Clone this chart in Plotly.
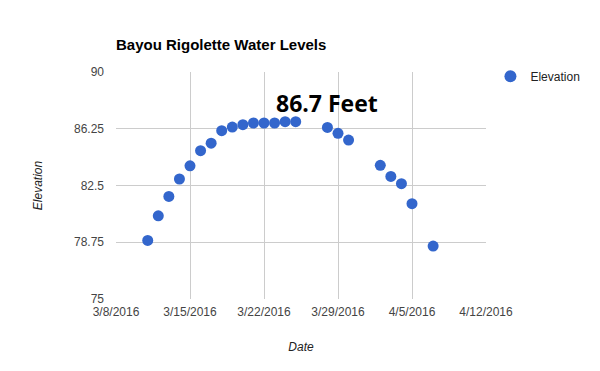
import plotly.graph_objects as go

dates = ["2016-03-11", "2016-03-12", "2016-03-13", "2016-03-14", "2016-03-15",
         "2016-03-16", "2016-03-17", "2016-03-18", "2016-03-19", "2016-03-20",
         "2016-03-21", "2016-03-22", "2016-03-23", "2016-03-24", "2016-03-25",
         "2016-03-28", "2016-03-29", "2016-03-30", "2016-04-02", "2016-04-03",
         "2016-04-04", "2016-04-05", "2016-04-07"]
elevation = [78.87, 80.5, 81.78, 82.93, 83.8,
             84.8, 85.3, 86.12, 86.36, 86.52,
             86.63, 86.63, 86.63, 86.72, 86.72,
             86.34, 85.95, 85.5, 83.83, 83.1,
             82.62, 81.3, 78.5]
x_ticks = ["2016-03-08", "2016-03-15", "2016-03-22", "2016-03-29", "2016-04-05", "2016-04-12"]
x_tick_labels = ["3/8/2016", "3/15/2016", "3/22/2016", "3/29/2016", "4/5/2016", "4/12/2016"]
y_ticks = [75, 78.75, 82.5, 86.25, 90]
y_tick_labels = ["75", "78.75", "82.5", "86.25", "90"]

fig = go.Figure()
fig.add_trace(go.Scatter(
    x=dates, y=elevation, mode="markers", name="Elevation",
    marker=dict(color="#3366cc", size=11, line=dict(width=0)),
    showlegend=True,
))

fig.add_annotation(
    x="2016-03-23", y=86.72, xref="x", yref="y",
    text="<b>86.7 Feet</b>", showarrow=False,
    xanchor="left", yanchor="bottom", xshift=-1, yshift=1,
    font=dict(family="Open Sans, Arial", size=23, color="#000000"),
)

fig.update_layout(
    width=600, height=371,
    margin=dict(l=116, r=114, t=72, b=72),
    paper_bgcolor="white", plot_bgcolor="white",
    title=dict(text="<b>Bayou Rigolette Water Levels</b>", x=116/600, xanchor="left",
               y=1 - 45/371, yanchor="middle",
               font=dict(family="Arial", size=15, color="#000000")),
    font=dict(family="Arial", size=12, color="#444444"),
    legend=dict(x=1.012, xanchor="left", y=1.045, yanchor="top",
                xref="paper", font=dict(family="Arial", size=12, color="#222222"),
                itemsizing="constant", bgcolor="rgba(0,0,0,0)"),
    xaxis=dict(
        type="date",
        range=["2016-03-08", "2016-04-12"],
        tickmode="array", tickvals=x_ticks, ticktext=x_tick_labels,
        showgrid=True, gridcolor="#cccccc", gridwidth=1,
        showline=False, zeroline=False, ticks="", ticklabelstandoff=4,
        tickfont=dict(family="Arial", size=12, color="#444444"),
        title=dict(text="<i>Date</i>", font=dict(family="Arial", size=12, color="#222222"), standoff=24),
    ),
    yaxis=dict(
        range=[75, 90],
        tickmode="array", tickvals=y_ticks, ticktext=y_tick_labels,
        showgrid=True, gridcolor="#cccccc", gridwidth=1,
        showline=False, zeroline=False, ticks="", ticklabelstandoff=11,
        tickfont=dict(family="Arial", size=12, color="#444444"),
        title=dict(text="<i>Elevation</i>", font=dict(family="Arial", size=12, color="#222222"), standoff=28),
    ),
)

fig.write_html("out.html", config={"displayModeBar": False},
               post_script="document.body.style.margin='0';")
